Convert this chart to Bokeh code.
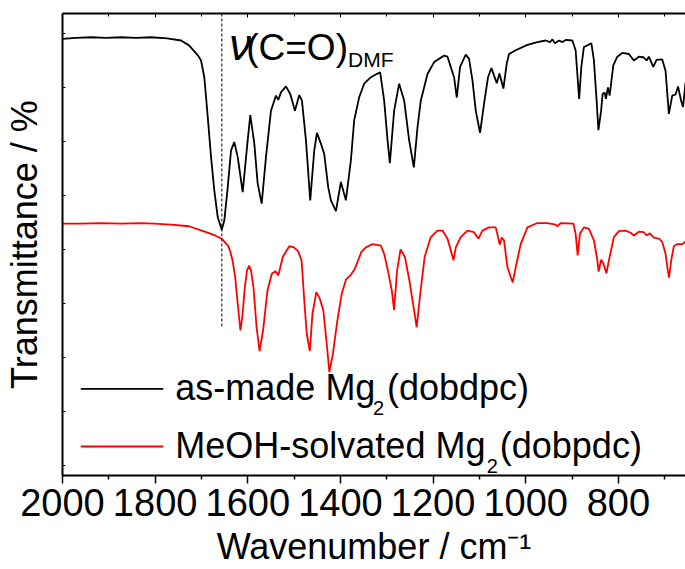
import numpy as np
from bokeh.plotting import figure
from bokeh.models import Range1d, LinearAxis, FixedTicker, Label
from bokeh.embed import file_html
from bokeh.resources import INLINE

# ---------------- data ----------------
wn_asmade = [2000, 1970.5, 1938, 1905.8, 1873.4, 1841, 1808.7, 1774.2, 1744, 1726.8, 1707.3, 1700.9,
             1693.8, 1686.4, 1679.3, 1672.2, 1664.9, 1656.2, 1650.6, 1643.3, 1636.2, 1629.1, 1621.7,
             1611, 1601.7, 1594.6, 1585.9, 1578.6, 1570, 1560.7, 1549.9, 1539.1, 1534.2, 1528.4,
             1517.6, 1508.3, 1498.2, 1488.9, 1483.1, 1474.4, 1465.2, 1456.5, 1450.7, 1442.1, 1435,
             1426.3, 1420.5, 1409.7, 1399, 1388.2, 1377.4, 1370.3, 1359.5, 1348.7, 1334.3, 1323.5,
             1314.2, 1305.6, 1298.2, 1293.3, 1284, 1273.2, 1262.4, 1251.6, 1241.5, 1233.5, 1226.4,
             1212, 1197.7, 1176.2, 1168.8, 1161.7, 1154.6, 1148.8, 1141.7, 1129.4, 1122.3, 1114.9,
             1107.8, 1098.5, 1089.9, 1081.3, 1074, 1068.3, 1062.5, 1056.7, 1048.1, 1041, 1036,
             1021.6, 996.3, 974.8, 956.9, 947.6, 942.4, 936.8, 928.2, 920.8, 913.7, 899.3, 892.2,
             888.5, 884.6, 879.9, 874.3, 866.9, 858.3, 852.7, 846.9, 843, 837.2, 833.9, 829.6,
             826.8, 822.5, 818.8, 810.9, 802.2, 791.5, 777.2, 766.4, 755.6, 746.1, 739, 734.1,
             724.6, 717.5, 705.2, 698.1, 690.9, 683.6, 676.5, 671.1, 664.6, 660.3, 655]
t_asmade = [79.0, 79.2, 79.3, 79.2, 79.3, 79.2, 79.3, 79.1, 78.7, 77.8, 75.9, 75.0,
            71.9, 64.5, 57.1, 50.9, 46.0, 43.6, 45.4, 51.5, 58.3, 59.9, 57.1,
            50.6, 58.9, 64.9, 59.6, 52.2, 48.5, 57.1, 65.7, 68.5, 67.7, 69.1,
            70.2, 68.8, 65.7, 68.6, 67.6, 60.2, 49.1, 58.3, 61.6, 59.6, 57.7,
            51.5, 49.1, 47.1, 52.5, 49.1, 56.5, 63.9, 68.2, 70.7, 71.9, 72.4,
            72.8, 67.6, 60.2, 56.0, 65.7, 70.7, 67.6, 60.2, 55.2, 62.7, 67.6,
            72.5, 74.7, 75.9, 75.7, 73.8, 71.9, 68.1, 73.8, 76.1, 75.3, 71.3,
            65.7, 61.6, 67.0, 71.9, 73.6, 72.2, 70.8, 72.6, 69.8, 74.4, 76.2,
            76.9, 77.9, 78.4, 78.7, 78.4, 78.9, 78.2, 78.7, 78.4, 78.8, 78.7, 76.9,
            72.5, 67.9, 73.8, 77.5, 77.8, 78.2, 75.0, 67.6, 62.1, 65.7, 68.8, 69.1,
            67.9, 70.0, 68.5, 74.1, 75.7, 76.4, 76.2, 75.0, 75.7, 75.6, 75.0, 75.7,
            73.8, 75.1, 75.2, 73.1, 65.1, 68.5, 68.7, 70.2, 67.6, 66.4, 70.9]

wn_meoh = [2000, 1959.7, 1916.5, 1873.4, 1830.3, 1802.2, 1765.6, 1726.8, 1690.1, 1670.7, 1656.5,
           1642.7, 1638.3, 1633, 1627.6, 1623.2, 1615.9, 1611.4, 1606.4, 1601.7, 1597.1, 1593,
           1587.7, 1581, 1574.5, 1567, 1557.5, 1548, 1540.4, 1534, 1524.5, 1510.5, 1500.3,
           1491.5, 1483.9, 1477.5, 1472.7, 1466, 1460.4, 1452, 1444.5, 1436.9, 1430.2, 1423.8,
           1416.2, 1406.7, 1397.2, 1388, 1378.5, 1369, 1355, 1345, 1330.6, 1312.7, 1305.6,
           1298.5, 1289, 1284.2, 1277.7, 1270.2, 1260.7, 1251.2, 1242, 1235.3, 1227.7, 1218.2,
           1204.9, 1190.4, 1179.6, 1168.8, 1161.7, 1155.9, 1150.9, 1140.2, 1125.7, 1111.5, 1102,
           1093.4, 1079.1, 1064.7, 1059.7, 1056.1, 1051.7, 1046.8, 1039.4, 1032.3, 1028, 1021.6,
           1010.8, 996.3, 974.8, 953.2, 935.3, 931.6, 924.5, 897.1, 892.2, 887.8, 882.9, 874.3,
           863.5, 852.7, 845.3, 842.6, 837.2, 832.4, 825.7, 820.3, 809.6, 798.8, 784.3, 773.5,
           766.4, 755.6, 744.9, 739, 731.9, 723.3, 712.5, 705.2, 698.1, 693.1, 690.5, 685.8,
           680.2, 672.8, 662.1, 655]
t_meoh = [44.8, 44.8, 44.9, 44.8, 44.9, 44.8, 44.6, 44.3, 43.2, 42.6, 42.0,
          40.7, 39.8, 38.0, 35.2, 31.2, 25.0, 27.8, 33.0, 36.1, 37.0, 36.1,
          33.0, 25.6, 21.2, 25.0, 32.4, 35.5, 36.0, 35.2, 38.6, 40.6, 40.4,
          39.7, 38.0, 29.9, 24.4, 21.2, 28.1, 32.1, 30.9, 28.7, 23.1, 17.3,
          20.7, 26.8, 31.8, 34.4, 35.2, 36.4, 39.5, 40.4, 41.0, 40.7, 39.2,
          36.5, 32.4, 28.8, 36.1, 40.0, 38.6, 34.3, 29.3, 25.6, 31.8, 38.6,
          42.3, 43.5, 43.5, 42.0, 39.8, 38.0, 40.4, 42.3, 43.5, 43.2, 42.0,
          43.5, 44.1, 44.1, 42.3, 40.9, 42.2, 41.7, 36.7, 34.9, 33.9, 36.7,
          41.0, 44.1, 44.9, 44.9, 44.6, 44.3, 44.9, 44.8, 42.9, 38.9, 42.9, 44.1,
          43.8, 41.7, 38.0, 35.9, 38.1, 37.4, 35.6, 38.0, 42.3, 43.4, 43.5, 43.1,
          42.6, 43.3, 43.2, 42.6, 43.0, 42.2, 42.0, 41.4, 39.2, 36.1, 34.8, 38.0,
          40.6, 41.0, 41.0, 41.5]

x_major_ticks = [2000, 1800, 1600, 1400, 1200, 1000, 800]
x_minor_ticks = [1900, 1700, 1500, 1300, 1100, 900, 700]
y_ticks = [0, 10, 20, 30, 40, 50, 60, 70, 80]
dmf_co_wn = 1656
dmf_marker_bottom = 25.7

series_labels = [("as-made Mg", "2", "(dobdpc)"), ("MeOH-solvated Mg", "2", "(dobpdc)")]
series_colors = ["#000000", "#ff0000"]
x_title = "Wavenumber / cm\u207b\u00b9"
y_title = "Transmittance / %"
annotation = ("ν", "(C=O)", "DMF")

# ---------------- layout ----------------
W, H = 685, 569
FL, FR, FT, FB = 61, 685, 13, 475
X0, X1 = 2000, 655
Y0, Y1 = -1.852, 83.70
FONT = "Liberation Sans"
BASE_SHIFT = 0.36           # Label "alphabetic" anchor sits this many em above the drawn baseline


def sx(px):
    return X0 + (px - FL) * (X1 - X0) / (FR - FL)


def sy(py):
    return Y1 - (py - FT) * (Y1 - Y0) / (FB - FT)


def lab(px, py, text, size, **kw):
    py = py - BASE_SHIFT * size
    return Label(x=sx(px), y=sy(py), text=text, text_font=FONT, text_font_size=f"{size}px",
                 text_color="black", text_baseline="alphabetic", text_align="left", **kw)


p = figure(width=W, height=H, x_range=Range1d(X0, X1), y_range=Range1d(Y0, Y1),
           output_backend="svg", toolbar_location=None,
           min_border_left=FL, min_border_right=W - FR, min_border_top=FT,
           min_border_bottom=H - FB)
p.outline_line_color = None
p.grid.visible = False

xa = p.xaxis[0]
xa.ticker = FixedTicker(ticks=x_major_ticks, minor_ticks=x_minor_ticks)
xa.major_tick_out = 8
xa.major_tick_in = 0
xa.minor_tick_out = 4
xa.minor_tick_in = 0
xa.axis_line_width = 2
xa.major_tick_line_width = 1.5
xa.minor_tick_line_width = 1.5
xa.major_label_text_font = FONT
xa.major_label_text_font_size = "38px"
xa.major_label_text_color = "black"
xa.major_label_standoff = 5
xa.axis_label = x_title
xa.axis_label_text_font = FONT
xa.axis_label_text_font_size = "36px"
xa.axis_label_text_font_style = "normal"
xa.axis_label_text_color = "black"
xa.axis_label_standoff = 7

ya = p.yaxis[0]
ya.ticker = FixedTicker(ticks=y_ticks)
ya.major_tick_in = 3
ya.major_tick_out = 0
ya.minor_tick_in = 0
ya.minor_tick_out = 0
ya.axis_line_width = 2
ya.major_label_overrides = {t: "" for t in y_ticks}
ya.major_label_standoff = 0
ya.axis_label = y_title
ya.axis_label_text_font = FONT
ya.axis_label_text_font_size = "36px"
ya.axis_label_text_font_style = "normal"
ya.axis_label_text_color = "black"
ya.axis_label_standoff = 18

top = LinearAxis(ticker=FixedTicker(ticks=x_major_ticks, minor_ticks=x_minor_ticks),
                 major_tick_in=4, major_tick_out=0, minor_tick_in=3, minor_tick_out=0,
                 axis_line_width=2, major_label_text_font_size="6px", major_label_standoff=0,
                 major_label_overrides={t: "" for t in x_major_ticks})
p.add_layout(top, "above")

# spectra
p.line(wn_asmade, t_asmade, line_color=series_colors[0], line_width=1.8)
p.line(wn_meoh, t_meoh, line_color=series_colors[1], line_width=1.8)

# DMF C=O marker
p.line([dmf_co_wn, dmf_co_wn], [Y1, dmf_marker_bottom], line_color="black",
       line_width=1, line_dash="3 2")

# annotation
p.add_layout(lab(228, 60, annotation[0], 44, text_font_style="italic"))
p.add_layout(lab(245, 60, annotation[1], 37))
p.add_layout(lab(347, 66.7, annotation[2], 21))

# legend
leg_rows = [(388.3, 400, 415, 372, 386), (446, 458, 473, 486, 499)]
for (ly, base, subbase, subx, restx), (a, b, c), col in zip(leg_rows, series_labels, series_colors):
    p.line([sx(79.3), sx(162)], [sy(ly), sy(ly)], line_color=col, line_width=1.8)
    p.add_layout(lab(174, base, a, 36))
    p.add_layout(lab(subx, subbase, b, 20))
    p.add_layout(lab(restx, base, c, 36))

open("out.html", "w").write(file_html(p, INLINE))
